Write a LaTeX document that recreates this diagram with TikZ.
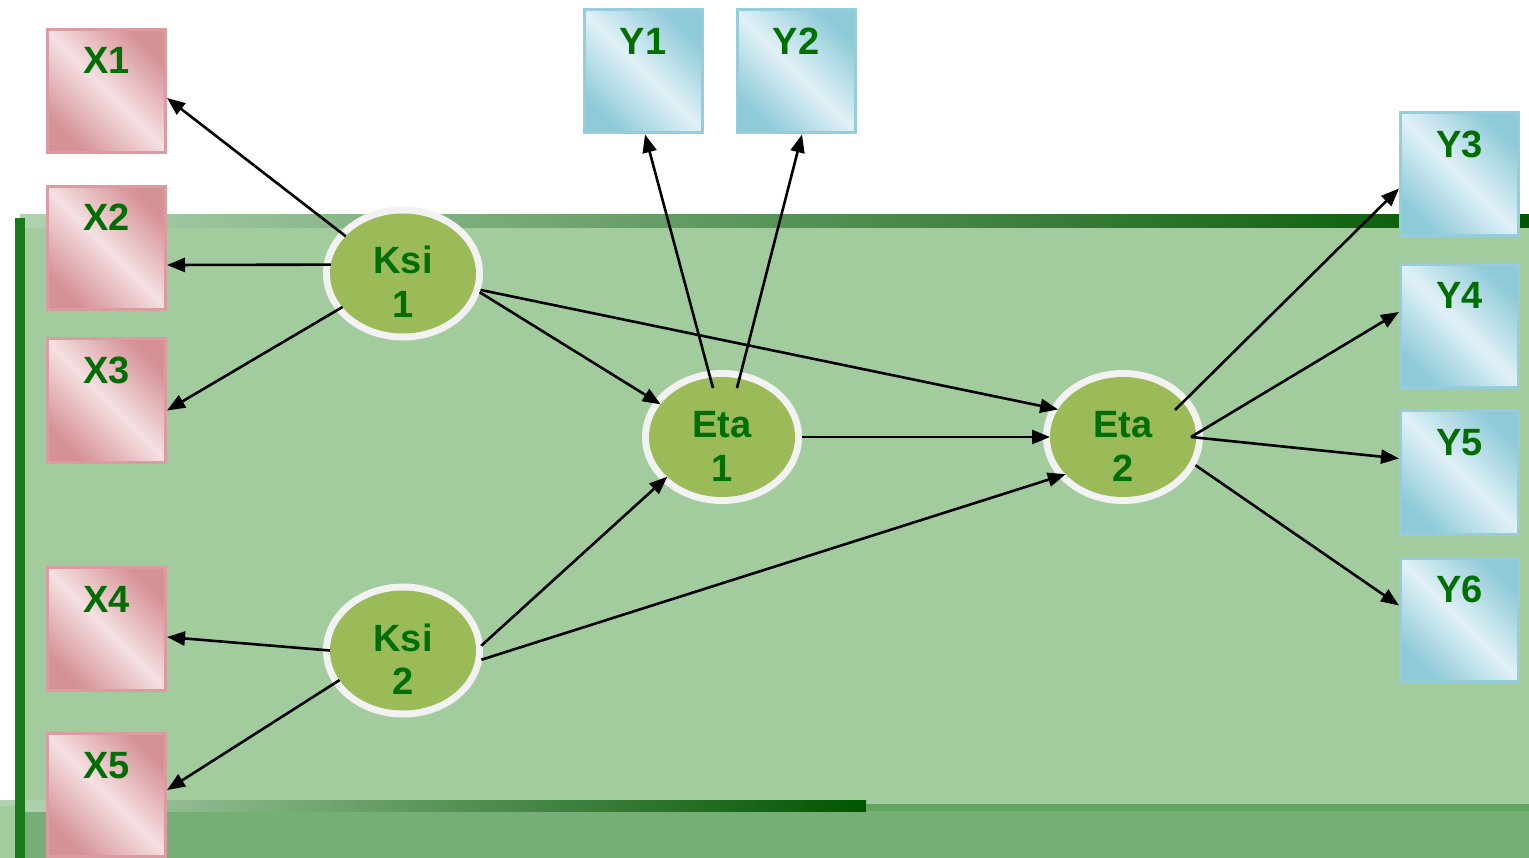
\documentclass[tikz,border=0pt]{standalone}
\usepackage{fontspec}
\setmainfont{Liberation Sans}
\usetikzlibrary{arrows.meta,shapes.geometric}
\definecolor{txtg}{RGB}{0,110,0}
\definecolor{egreen}{RGB}{155,187,89}
\definecolor{ringc}{RGB}{242,242,242}
\definecolor{pinkD}{RGB}{214,145,150}
\definecolor{pinkL}{RGB}{244,224,226}
\definecolor{pinkB}{RGB}{220,155,160}
\definecolor{blueD}{RGB}{142,202,216}
\definecolor{blueL}{RGB}{224,241,246}
\definecolor{blueB}{RGB}{150,205,220}
\definecolor{patg}{RGB}{163,204,158}
\definecolor{patlow}{RGB}{118,175,118}
\definecolor{bandL}{RGB}{176,210,176}
\definecolor{bandD}{RGB}{0,85,0}
\definecolor{sideg}{RGB}{25,122,25}
\definecolor{midg}{RGB}{100,165,100}
\newcommand{\mktwo}[2]{\makebox[0pt]{\raisebox{-0.5pt}[0pt][0pt]{#1}}\makebox[0pt]{\raisebox{-44pt}[0pt][0pt]{#2}}}
\begin{document}
\begin{tikzpicture}[x=1pt,y=-1pt,
  lbl/.style={font=\fontsize{38}{44}\selectfont\bfseries, text=txtg},
  obsbox/.style={lbl, rectangle, minimum width=118pt, minimum height=123pt, inner sep=0pt,
     line width=3pt, text height=44.5pt, text depth=78.5pt},
  xbox/.style={obsbox, draw=pinkB, top color=pinkD, bottom color=pinkD, middle color=pinkL, shading angle=-45},
  ybox/.style={obsbox, draw=blueB, top color=blueD, bottom color=blueD, middle color=blueL, shading angle=-45},
  latent/.style={lbl, ellipse, minimum width=146pt, minimum height=120pt, inner sep=0pt,
     outer sep=0pt, fill=egreen, preaction={draw=ringc, line width=14pt}},
  arr/.style={line width=2.6pt, -{Triangle[length=18pt,width=14pt]}},
  ringstart/.style={shorten <=7pt}]
\useasboundingbox (0,0) rectangle (1529,858);
% background
\fill[patg] (20,222) rectangle (1529,811);
\fill[patlow] (20,811) rectangle (1529,858);
\fill[patg] (0,806) rectangle (15,858);
\fill[bandL] (0,800) rectangle (15,806);
\shade[left color=bandL, right color=bandD] (20,215) rectangle (1529,228);
\shade[left color=bandL, right color=bandD] (20,800) rectangle (866,811);
\fill[midg] (866,804) rectangle (1529,811);
\fill[sideg] (15,218) rectangle (25,858);
% observed boxes
\node[xbox] (x1) at (106.5,91) {X1};
\node[xbox] (x2) at (106.5,248) {X2};
\node[xbox] (x3) at (106.5,400.5) {X3};
\node[xbox] (x4) at (106.5,629) {X4};
\node[xbox] (x5) at (106.5,795) {X5};
\node[ybox] (y1) at (643,71.5) {Y1};
\node[ybox] (y2) at (796,71.5) {Y2};
\node[ybox] (y3) at (1459.5,174.5) {Y3};
\node[ybox] (y4) at (1459.5,326) {Y4};
\node[ybox] (y5) at (1459.5,472.5) {Y5};
\node[ybox] (y6) at (1459.5,619.5) {Y6};
% latent variables
\node[latent] (k1) at (403,273.5) {\mktwo{Ksi}{1}};
\node[latent] (k2) at (403,650.5) {\mktwo{Ksi}{2}};
\node[latent] (e1) at (722,437) {\mktwo{Eta}{1}};
\node[latent] (e2) at (1123,437) {\mktwo{Eta}{2}};
% connectors
\draw[arr] (k1.147) -- ([yshift=-7pt]x1.east);
\draw[arr] (k1.173) -- ([yshift=-17pt]x2.east);
\draw[arr] (k1.209) -- ([yshift=-10pt]x3.east);
\draw[arr,ringstart] (k1.-12) -- (e1.152);
\draw[arr,ringstart] (k1.-12) -- (e2.157);
\draw[arr] ([xshift=-9pt,yshift=49pt]e1.center) -- ([xshift=2pt]y1.south);
\draw[arr] ([xshift=15pt,yshift=49pt]e1.center) -- ([xshift=6pt]y2.south);
\draw[arr,ringstart] (e1.east) -- (e2.west);
\draw[arr] (k2.west) -- ([yshift=-8pt]x4.east);
\draw[arr] (k2.205) -- ([yshift=5pt]x5.east);
\draw[arr,ringstart] (k2.east) -- (e1.216);
\draw[arr,ringstart] (k2.-9) -- (e2.213);
\draw[arr] ([xshift=52pt,yshift=27pt]e2.center) -- ([yshift=-14pt]y3.west);
\draw[arr] ([xshift=68pt]e2.center) -- ([yshift=14pt]y4.west);
\draw[arr] ([xshift=68pt]e2.center) -- ([yshift=14pt]y5.west);
\draw[arr,ringstart] (e2.-20) -- ([yshift=14pt]y6.west);
\end{tikzpicture}
\end{document}
